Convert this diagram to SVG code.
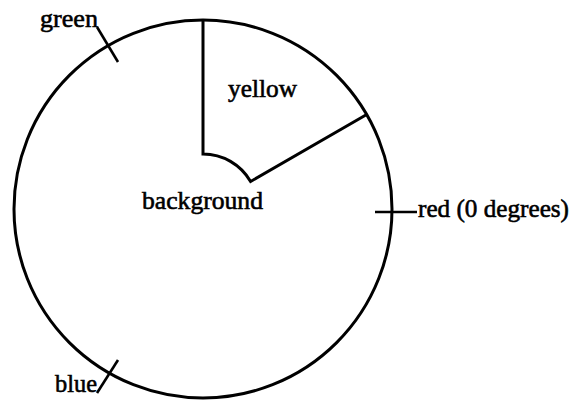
<svg xmlns="http://www.w3.org/2000/svg" width="575" height="400" viewBox="0 0 575 400">
  <style>
    .ln { fill: none; stroke: #000; stroke-width: 3; stroke-linecap: butt; stroke-linejoin: miter; }
    .tk { fill: none; stroke: #000; stroke-width: 2.6; }
    .lb { font-family: "Liberation Serif", "Times New Roman", serif; font-size: 26px; fill: #000; stroke: #000; stroke-width: 0.6; }
  </style>
  <rect width="575" height="400" fill="#fff"/>
  <g id="background">
    <circle class="ln" cx="203" cy="209" r="189"/>
    <text class="lb" x="142" y="209" textLength="121" lengthAdjust="spacingAndGlyphs">background</text>
  </g>
  <g id="yellow">
    <path class="ln" d="M203,20 L203,154 A55,55 0 0 1 250.6,181.5 L366.7,114.5"/>
    <text class="lb" x="228" y="97" textLength="69" lengthAdjust="spacingAndGlyphs">yellow</text>
  </g>
  <g id="green">
    <text class="lb" x="40" y="27" textLength="58" lengthAdjust="spacingAndGlyphs">green</text>
  </g>
  <g id="red">
    <text class="lb" x="418" y="217" font-size="25" textLength="151" lengthAdjust="spacingAndGlyphs">red (0 degrees)</text>
  </g>
  <g id="blue">
    <text class="lb" x="55" y="392" textLength="42" lengthAdjust="spacingAndGlyphs">blue</text>
  </g>
  <g id="connectors">
    <line class="tk" x1="97" y1="27" x2="118" y2="62"/>
    <line class="tk" x1="375" y1="212" x2="417" y2="212"/>
    <line class="tk" x1="97" y1="393" x2="118" y2="360"/>
  </g>
</svg>
